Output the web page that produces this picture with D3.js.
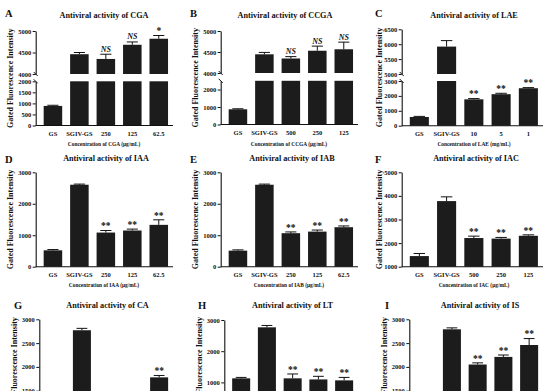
<!DOCTYPE html>
<html><head><meta charset="utf-8">
<script src="https://cdn.jsdelivr.net/npm/d3@7"></script>
<style>
body{margin:0;background:#fff}
svg{display:block}
text{font-family:"Liberation Serif","Times New Roman",serif;font-weight:bold;fill:#111}
</style>
</head><body><svg id="c" width="554" height="391"></svg>
<script>
// ---------- data ----------
const catsCGA = ["GS","SGIV-GS","250","125","62.5"];
const valsCGA = [885,4460,4350,4680,4820];
const errCGA  = [30,40,110,65,75];
const sigCGA  = ["","","NS","NS","*"];
const ticksCGALow = [0,500,1000,1500,2000];
const ticksCGAHigh = [4000,4500,5000];

const catsCCGA = ["GS","SGIV-GS","500","250","125"];
const valsCCGA = [870,4445,4345,4530,4565];
const errCCGA  = [30,45,45,110,170];
const sigCCGA  = ["","","NS","NS","NS"];
const ticksCCGALow = [0,1000,2000];
const ticksCCGAHigh = [4000,4500,5000];

const catsLAE = ["GS","SGIV-GS","10","5","1"];
const valsLAE = [585,5920,1770,2115,2515];
const errLAE  = [40,200,50,60,40];
const sigLAE  = ["","","**","**","**"];
const ticksLAELow = [0,1000,2000,3000];
const ticksLAEHigh = [5000,5500,6000,6500];

const catsIAA = ["GS","SGIV-GS","250","125","62.5"];
const valsIAA = [520,2605,1085,1150,1330];
const errIAA  = [25,20,65,45,160];
const sigIAA  = ["","","**","**","**"];
const ticksIAA = [0,1000,2000,3000];

const catsIAB = ["GS","SGIV-GS","250","125","62.5"];
const valsIAB = [510,2605,1065,1115,1255];
const errIAB  = [25,20,40,50,40];
const sigIAB  = ["","","**","**","**"];
const ticksIAB = [0,1000,2000,3000];

const catsIAC = ["GS","SGIV-GS","500","250","125"];
const valsIAC = [1450,3780,2215,2190,2310];
const errIAC  = [110,180,80,50,40];
const sigIAC  = ["","","**","**","**"];
const ticksIAC = [1000,2000,3000,4000,5000];

const catsCA = ["GS","SGIV-GS","250","125","62.5"];
const valsCA = [1150,2770,1150,1200,1780];
const errCA  = [30,40,40,40,40];
const sigCA  = ["","","**","**","**"];
const ticksCA = [1000,1500,2000,2500,3000];

const catsLT = ["GS","SGIV-GS","250","125","62.5"];
const valsLT = [1130,2765,1130,1095,1065];
const errLT  = [30,60,140,100,95];
const sigLT  = ["","","**","**","**"];
const ticksLT = [0,1000,2000,3000];

const catsIS = ["GS","SGIV-GS","250","125","62.5"];
const valsIS = [1300,2790,2050,2210,2460];
const errIS  = [40,30,35,40,135];
const sigIS  = ["","","**","**","**"];
const ticksIS = [1000,1500,2000,2500,3000];

// ---------- layout ----------
const panels = [
 {letter:"A", title:"Antiviral activity of CGA", xTitle:"Concentration of CGA (μg/mL)", cats:catsCGA, vals:valsCGA, err:errCGA, sig:sigCGA,
  ox:0, oy:0, axisX:35.7, titleX:104, titleY:17.7, letterX:5, letterY:16.7, yTitleX:13, xTitleY:145.5,
  segs:[{domain:[0,2000], range:[125.5,81.3], ticks:ticksCGALow},{domain:[4000,5000], range:[74,31], ticks:ticksCGAHigh}]},
 {letter:"B", title:"Antiviral activity of CCGA", xTitle:"Concentration of CCGA (μg/mL)", cats:catsCCGA, vals:valsCCGA, err:errCCGA, sig:sigCCGA,
  ox:185, oy:0, axisX:35.7, titleX:100, titleY:17.7, letterX:5, letterY:16.7, yTitleX:13, xTitleY:145.5,
  segs:[{domain:[0,2500], range:[124.5,80.8], ticks:ticksCCGALow},{domain:[4000,5000], range:[73,31], ticks:ticksCCGAHigh}]},
 {letter:"C", title:"Antiviral activity of LAE", xTitle:"Concentration of LAE (mg/mL)", cats:catsLAE, vals:valsLAE, err:errLAE, sig:sigLAE,
  ox:370, oy:0, axisX:31.7, titleX:104, titleY:17.7, letterX:5, letterY:16.7, yTitleX:12, xTitleY:145.5,
  segs:[{domain:[0,3000], range:[125.7,81], ticks:ticksLAELow},{domain:[5000,6500], range:[74,29.3], ticks:ticksLAEHigh}]},
 {letter:"D", title:"Antiviral activity of IAA", xTitle:"Concentration of IAA (μg/mL)", cats:catsIAA, vals:valsIAA, err:errIAA, sig:sigIAA,
  ox:0, oy:140, axisX:35.7, titleX:106, titleY:20.7, letterX:5, letterY:22.7, yTitleX:13, xTitleY:147,
  segs:[{domain:[0,3000], range:[126.7,32.3], ticks:ticksIAA}]},
 {letter:"E", title:"Antiviral activity of IAB", xTitle:"Concentration of IAB (μg/mL)", cats:catsIAB, vals:valsIAB, err:errIAB, sig:sigIAB,
  ox:185, oy:140, axisX:35.7, titleX:107, titleY:20.7, letterX:5, letterY:22.7, yTitleX:13, xTitleY:147,
  segs:[{domain:[0,3000], range:[126.7,32.3], ticks:ticksIAB}]},
 {letter:"F", title:"Antiviral activity of IAC", xTitle:"Concentration of IAC (μg/mL)", cats:catsIAC, vals:valsIAC, err:errIAC, sig:sigIAC,
  ox:370, oy:140, axisX:31.7, titleX:106, titleY:20.7, letterX:5, letterY:22.7, yTitleX:12, xTitleY:147,
  segs:[{domain:[1000,5000], range:[126.7,32.3], ticks:ticksIAC}]},
 {letter:"G", title:"Antiviral activity of CA", xTitle:"Concentration of CA (μg/mL)", cats:catsCA, vals:valsCA, err:errCA, sig:sigCA,
  ox:0, oy:280, axisX:39.3, titleX:107.5, titleY:28, letterX:14, letterY:28.7, yTitleX:16.7, xTitleY:155,
  segs:[{domain:[1000,3000], range:[134.5,39.3], ticks:ticksCA}]},
 {letter:"H", title:"Antiviral activity of LT", xTitle:"Concentration of LT (μg/mL)", cats:catsLT, vals:valsLT, err:errLT, sig:sigLT,
  ox:185, oy:280, axisX:39.3, titleX:107.5, titleY:28, letterX:13, letterY:28.7, yTitleX:16.7, xTitleY:155,
  segs:[{domain:[0,3000], range:[133.6,40], ticks:ticksLT}]},
 {letter:"I", title:"Antiviral activity of IS", xTitle:"Concentration of IS (μg/mL)", cats:catsIS, vals:valsIS, err:errIS, sig:sigIS,
  ox:370, oy:280, axisX:39.3, titleX:110, titleY:28, letterX:15, letterY:28.7, yTitleX:16.7, xTitleY:155,
  segs:[{domain:[1000,3000], range:[134.5,39.3], ticks:ticksIS}]}
];

const svg = d3.select("#c");
svg.append("rect").attr("width",554).attr("height",391).attr("fill","#fff");
const BAR = "#1c1c1c";

panels.forEach(p => {
  const g = svg.append("g").attr("transform", `translate(${p.ox},${p.oy})`);
  const x = d3.scaleBand().domain(p.cats).range([p.axisX + 4, 172]).paddingInner(0.3).paddingOuter(0.15);
  const bw = x.bandwidth();
  const base = p.segs[0].range[0];
  const topY = p.segs[p.segs.length - 1].range[1];

  p.segs.forEach((s, si) => {
    const y = d3.scaleLinear().domain(s.domain).range(s.range);
    const ax = g.append("g").attr("transform", `translate(${p.axisX},0)`)
      .call(d3.axisLeft(y).tickValues(s.ticks).tickSize(3).tickSizeOuter(0).tickPadding(1.5).tickFormat(d3.format("d")));
    ax.select(".domain").attr("stroke", "#111").attr("stroke-width", 1.1);
    ax.selectAll(".tick line").attr("stroke", "#111").attr("stroke-width", 1);
    ax.selectAll(".tick text").attr("font-size", 6.5).attr("font-family", '"Liberation Serif",serif').attr("font-weight", "bold").attr("fill", "#111");

    // bars
    p.vals.forEach((v, i) => {
      if (v <= s.domain[0]) return;
      const top = Math.min(v, s.domain[1]);
      g.append("rect").attr("x", x(p.cats[i])).attr("width", bw)
        .attr("y", y(top)).attr("height", y(s.domain[0]) - y(top)).attr("fill", BAR);
      if (v <= s.domain[1]) {
        const cx = x(p.cats[i]) + bw / 2;
        const ye = y(v + p.err[i]);
        g.append("line").attr("x1", cx).attr("x2", cx).attr("y1", y(v)).attr("y2", ye).attr("stroke", "#111").attr("stroke-width", 1);
        g.append("line").attr("x1", cx - bw * 0.3).attr("x2", cx + bw * 0.3).attr("y1", ye).attr("y2", ye).attr("stroke", "#111").attr("stroke-width", 1);
        const sg = p.sig[i];
        if (sg) {
          const t = g.append("text").attr("x", cx).attr("text-anchor", "middle").text(sg);
          if (sg === "NS") t.attr("y", ye - 2.5).attr("font-size", 8).attr("font-style", "italic");
          else t.attr("y", ye - 1.2).attr("font-size", 9.5);
        }
      }
    });

    // break marks
    if (p.segs.length > 1) {
      const ends = si === 0 ? [s.range[1]] : [s.range[0]];
      ends.forEach(e => {
        g.append("line").attr("x1", p.axisX - 2).attr("y1", e - 2).attr("x2", p.axisX + 2).attr("y2", e + 2)
          .attr("stroke", "#111").attr("stroke-width", 1);
      });
    }
  });

  // x axis line
  g.append("line").attr("x1", p.axisX).attr("x2", 173).attr("y1", base).attr("y2", base).attr("stroke", "#111").attr("stroke-width", 1.1);
  // x labels
  p.cats.forEach(c => {
    g.append("text").attr("x", x(c) + bw / 2).attr("y", base + 10).attr("text-anchor", "middle").attr("font-size", 6.5).text(c);
  });
  // x title
  g.append("text").attr("x", 104).attr("y", p.xTitleY).attr("text-anchor", "middle").attr("font-size", 5.4).text(p.xTitle);
  // y title
  const cy = (base + topY) / 2;
  g.append("text").attr("transform", `translate(${p.yTitleX},${cy}) rotate(-90)`).attr("text-anchor", "middle").attr("font-size", 8).text("Gated Fluorescence Intensity");
  // title
  g.append("text").attr("x", p.titleX).attr("y", p.titleY).attr("text-anchor", "middle").attr("font-size", 8.2).text(p.title);
  // letter
  g.append("text").attr("x", p.letterX).attr("y", p.letterY).attr("font-size", 10.5).text(p.letter);
});
</script>
</body></html>
